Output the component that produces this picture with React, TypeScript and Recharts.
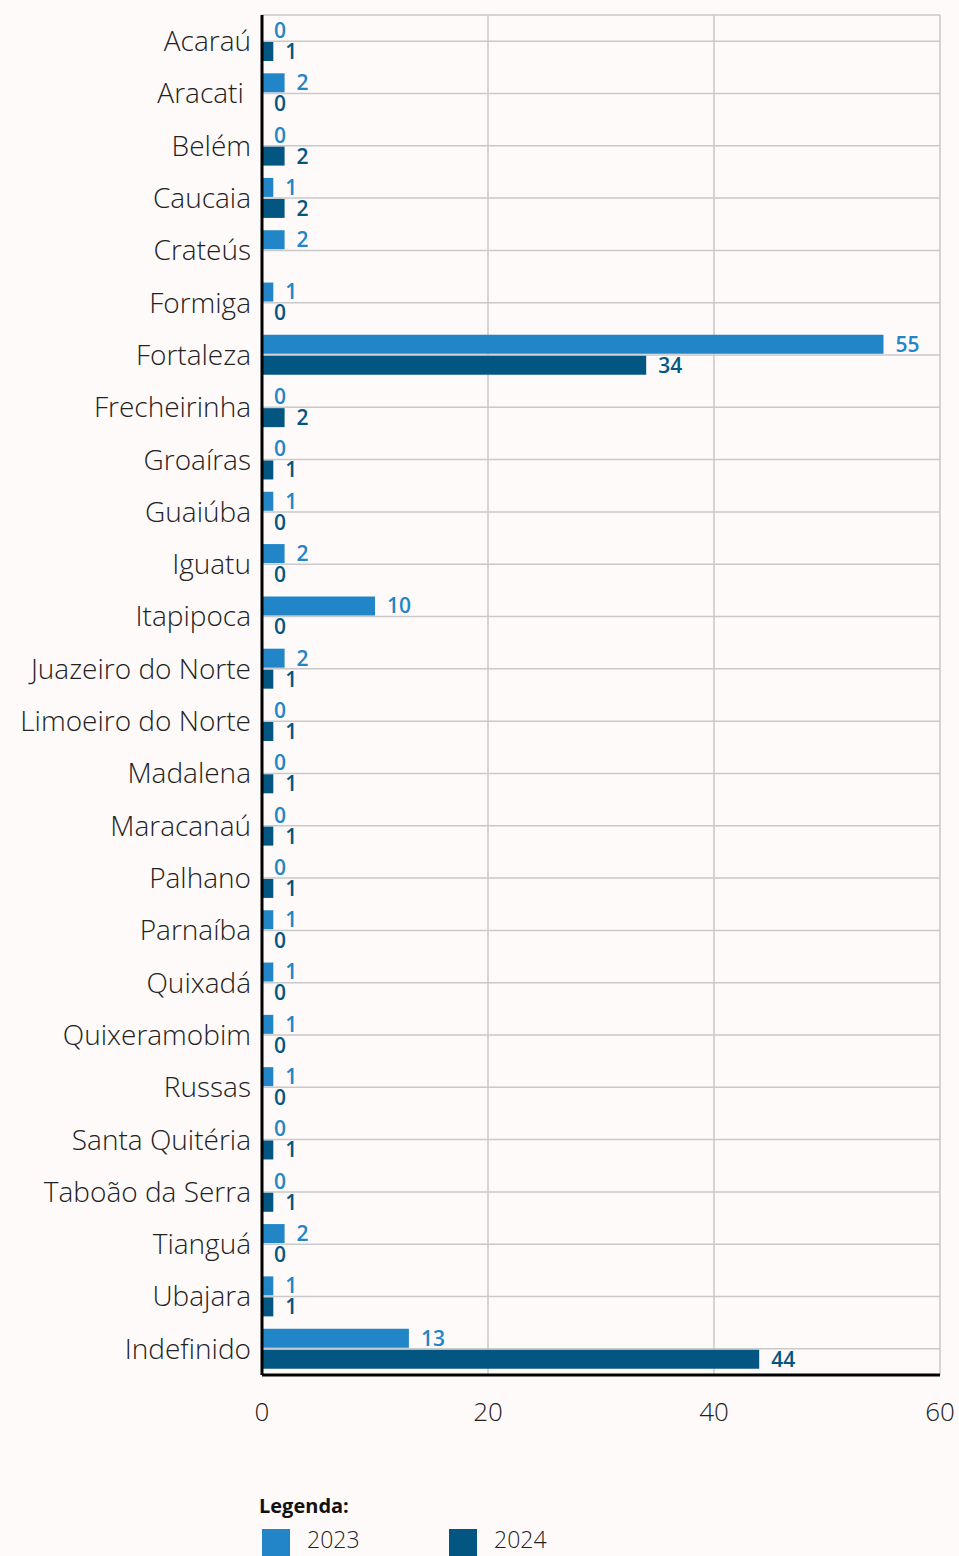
import React from 'react'
import { Bar, BarChart, CartesianGrid, LabelList, XAxis, YAxis } from 'recharts'

const cities = [
  'Acaraú', 'Aracati\u00a0', 'Belém', 'Caucaia', 'Crateús', 'Formiga', 'Fortaleza',
  'Frecheirinha', 'Groaíras', 'Guaiúba', 'Iguatu', 'Itapipoca', 'Juazeiro do Norte',
  'Limoeiro do Norte', 'Madalena', 'Maracanaú', 'Palhano', 'Parnaíba', 'Quixadá',
  'Quixeramobim', 'Russas', 'Santa Quitéria', 'Taboão da Serra', 'Tianguá', 'Ubajara',
  'Indefinido',
]

const values2023 = [0, 2, 0, 1, 2, 1, 55, 0, 0, 1, 2, 10, 2, 0, 0, 0, 0, 1, 1, 1, 1, 0, 0, 2, 1, 13]
const values2024 = [1, 0, 2, 2, null, 0, 34, 2, 1, 0, 0, 0, 1, 1, 1, 1, 1, 0, 0, 0, 0, 1, 1, 0, 1, 44]

const xTicks = [0, 20, 40, 60]

const data = cities.map((name, i) => ({
  name,
  y2023: values2023[i],
  y2024: values2024[i],
}))

const LIGHT = '#2185c7'
const DARK = '#045682'
const BG = '#fefaf9'
const FONT = '"Open Sans", sans-serif'

// keeps zero bars in the layout so their "0" labels get drawn
const zeroSize = (v: any) => (v === 0 ? 0.01 : 0)

export default function App() {
  return (
    <div
      style={{
        position: 'absolute',
        left: 0,
        top: 0,
        width: 959,
        height: 1556,
        background: BG,
        fontFamily: FONT,
        overflow: 'hidden',
      }}
    >
      <BarChart
        width={959}
        height={1556}
        data={data}
        layout="vertical"
        margin={{ top: 15, right: 19, bottom: 121, left: 0 }}
        barSize={19}
        barGap={2}
      >
        <CartesianGrid stroke="#c9c9c9" strokeWidth={1.5} />
        <XAxis
          type="number"
          domain={[0, 60]}
          ticks={xTicks}
          height={60}
          tickLine={false}
          tickMargin={22}
          axisLine={{ stroke: '#000', strokeWidth: 3 }}
          tick={{ fill: '#222', fontSize: 26, fontWeight: 300, fontFamily: FONT }}
        />
        <YAxis
          type="category"
          dataKey="name"
          width={262}
          tickLine={false}
          tickMargin={5}
          interval={0}
          axisLine={{ stroke: '#000', strokeWidth: 3 }}
          tick={{ fill: '#222', fontSize: 28, fontWeight: 300, fontFamily: FONT }}
        />
        <Bar dataKey="y2023" fill={LIGHT} minPointSize={zeroSize} isAnimationActive={false}>
          <LabelList
            dataKey="y2023"
            position="right"
            offset={12}
            fill={LIGHT}
            fontSize={21}
            fontWeight={600}
            fontFamily={FONT}
          />
        </Bar>
        <Bar dataKey="y2024" fill={DARK} minPointSize={zeroSize} isAnimationActive={false}>
          <LabelList
            dataKey="y2024"
            position="right"
            offset={12}
            fill={DARK}
            fontSize={21}
            fontWeight={600}
            fontFamily={FONT}
          />
        </Bar>
      </BarChart>
      <div
        style={{
          position: 'absolute',
          left: 259,
          top: 1492,
          fontSize: 20,
          fontWeight: 700,
          color: '#111',
        }}
      >
        Legenda:
      </div>
      {[
        { label: '2023', color: LIGHT, x: 262 },
        { label: '2024', color: DARK, x: 449 },
      ].map((item) => (
        <div
          key={item.label}
          style={{ position: 'absolute', left: item.x, top: 1529, display: 'flex', alignItems: 'flex-start' }}
        >
          <div style={{ width: 28, height: 27, background: item.color }} />
          <span style={{ marginLeft: 17, marginTop: -3, fontSize: 23, fontWeight: 300, color: '#222', lineHeight: '26px' }}>
            {item.label}
          </span>
        </div>
      ))}
    </div>
  )
}
